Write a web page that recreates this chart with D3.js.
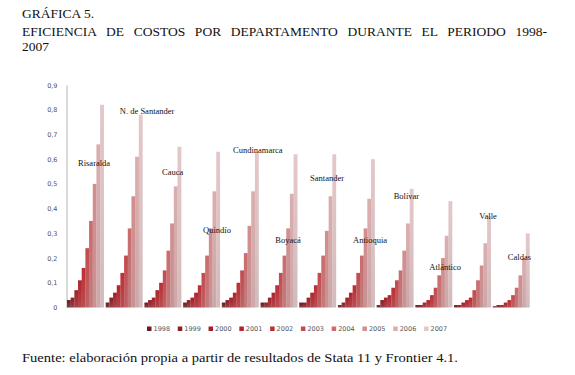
<!DOCTYPE html>
<html><head><meta charset="utf-8">
<script src="https://cdn.jsdelivr.net/npm/d3@7/dist/d3.min.js"></script>
<style>body{margin:0;background:#fff}svg{display:block}
.serif{font-family:"Liberation Serif","DejaVu Serif",serif}
.sans{font-family:"DejaVu Sans",sans-serif}
</style>
</head><body>
<script>
// ---- data ----
const categories = ["Risaralda","N. de Santander","Cauca","Quindío","Cundinamarca","Boyacá","Santander","Antioquia","Bolívar","Atlántico","Valle","Caldas"];
const years = ["1998","1999","2000","2001","2002","2003","2004","2005","2006","2007"];
const v1998 = [0.03,0.02,0.02,0.02,0.02,0.02,0.02,0.01,0.01,0.01,0.01,0.005];
const v1999 = [0.04,0.04,0.03,0.03,0.03,0.02,0.02,0.02,0.03,0.01,0.01,0.01];
const v2000 = [0.07,0.06,0.04,0.04,0.04,0.04,0.04,0.04,0.04,0.02,0.02,0.01];
const v2001 = [0.11,0.09,0.07,0.06,0.06,0.06,0.06,0.06,0.05,0.03,0.03,0.02];
const v2002 = [0.16,0.14,0.10,0.09,0.10,0.09,0.09,0.09,0.08,0.05,0.04,0.03];
const v2003 = [0.24,0.21,0.15,0.14,0.15,0.14,0.14,0.14,0.11,0.08,0.07,0.05];
const v2004 = [0.35,0.32,0.23,0.21,0.22,0.21,0.21,0.21,0.15,0.13,0.11,0.08];
const v2005 = [0.50,0.45,0.34,0.32,0.33,0.32,0.31,0.32,0.23,0.20,0.17,0.13];
const v2006 = [0.66,0.61,0.49,0.47,0.47,0.46,0.45,0.44,0.34,0.29,0.26,0.20];
const v2007 = [0.82,0.78,0.65,0.63,0.63,0.62,0.62,0.60,0.48,0.43,0.37,0.30];
const series = [v1998,v1999,v2000,v2001,v2002,v2003,v2004,v2005,v2006,v2007];
const yTicks = [0,0.1,0.2,0.3,0.4,0.5,0.6,0.7,0.8,0.9];
const titleLines = ["GRÁFICA 5.","EFICIENCIA DE COSTOS POR DEPARTAMENTO DURANTE EL PERIODO 1998-","2007"];
const sourceText = "Fuente: elaboración propia a partir de resultados de Stata 11 y Frontier 4.1.";

// ---- layout / style ----
const W = 575, H = 375;
const colors = ["#6e1a1f","#8e1c23","#a41f27","#b3232b","#bd2d33","#c44a4e","#cb6c6e","#d38e8f","#dcadae","#e4c8c9"];
// category label anchors: [fraction of band for x center, value-axis position]
const labelAnchor = [[0.70,0.585],[1.07,0.795],[0.73,0.55],[0.875,0.315],[0.93,0.637],[0.71,0.273],[0.72,0.523],[0.83,0.273],[0.77,0.45],[0.77,0.165],[0.88,0.372],[0.69,0.205]];

const svg = d3.select("body").append("svg").attr("width",W).attr("height",H);
const defs = svg.append("defs");
colors.forEach((c,i)=>{
  const g = defs.append("linearGradient").attr("id","g"+i).attr("x1",0).attr("y1",0).attr("x2",0).attr("y2",1);
  g.append("stop").attr("offset","0%").attr("stop-color",c);
  g.append("stop").attr("offset","100%").attr("stop-color",d3.interpolateRgb(c,"#a99d9d")(0.3));
});

// title
function serifText(x,yy,size,txt){
  return svg.append("text").attr("class","serif").attr("x",x).attr("y",yy).style("font-size",size+"px").attr("fill","#111").text(txt);
}
serifText(22,18,13.5,titleLines[0]);
const t2 = serifText(22,36,13.5,titleLines[1]);
const len = t2.node().getComputedTextLength();
const nSp = titleLines[1].split(" ").length-1;
t2.style("word-spacing", ((525-len)/nSp)+"px");
serifText(22,51,13.5,titleLines[2]);

// scales
const x0 = d3.scaleBand().domain(categories).range([67,529.5]).paddingInner(0.05).paddingOuter(0);
const x1 = d3.scaleBand().domain(years).range([0,x0.bandwidth()]).padding(0);
const y = d3.scaleLinear().domain([0,0.9]).range([307.5,85]);

// y axis
const yAxis = d3.axisLeft(y).tickValues(yTicks).tickSize(0).tickPadding(9)
  .tickFormat(d=> d===0 ? "0" : d3.format(".1f")(d).replace(".",","));
const ga = svg.append("g").attr("transform","translate(66.5,0)").call(yAxis);
ga.select(".domain").attr("stroke","#b5b5b5").attr("stroke-width",1);
ga.selectAll("text").attr("class","sans").attr("font-family",null).style("font-size","6.5px").attr("fill","#555");

// bars
const groups = svg.append("g").selectAll("g").data(categories).join("g")
  .attr("transform",d=>`translate(${x0(d)},0)`);
groups.each(function(cat,ci){
  d3.select(this).selectAll("rect").data(years.map((yr,si)=>({yr,si,v:series[si][ci]}))).join("rect")
    .attr("x",d=>x1(d.yr)).attr("width",x1.bandwidth()+0.2)
    .attr("y",d=>y(d.v)).attr("height",d=>y(0)-y(d.v))
    .attr("fill",d=>`url(#g${d.si})`);
});

// category labels
svg.append("g").selectAll("text").data(categories).join("text")
  .attr("class","serif")
  .attr("x",(d,i)=>x0(d)+labelAnchor[i][0]*x0.step())
  .attr("y",(d,i)=>y(labelAnchor[i][1]))
  .attr("dy","0.35em").attr("text-anchor","middle")
  .style("font-size","8.5px").attr("fill","#111")
  .text(d=>d);

// legend
const lg = svg.append("g");
const lx = d3.scalePoint().domain(years).range([149,426]);
const items = lg.selectAll("g").data(years).join("g").attr("transform",d=>`translate(${lx(d)},329)`);
items.append("rect").attr("x",-2).attr("y",-2.5).attr("width",4.5).attr("height",4.5).attr("fill",(d,i)=>colors[i]);
items.append("text").attr("class","sans").attr("x",4.5).attr("dy","0.35em")
  .style("font-size","6.5px").attr("fill","#555").text(d=>d);

// source
serifText(22,362,13.5,sourceText).attr("textLength",436).attr("lengthAdjust","spacingAndGlyphs");
</script>
</body></html>
